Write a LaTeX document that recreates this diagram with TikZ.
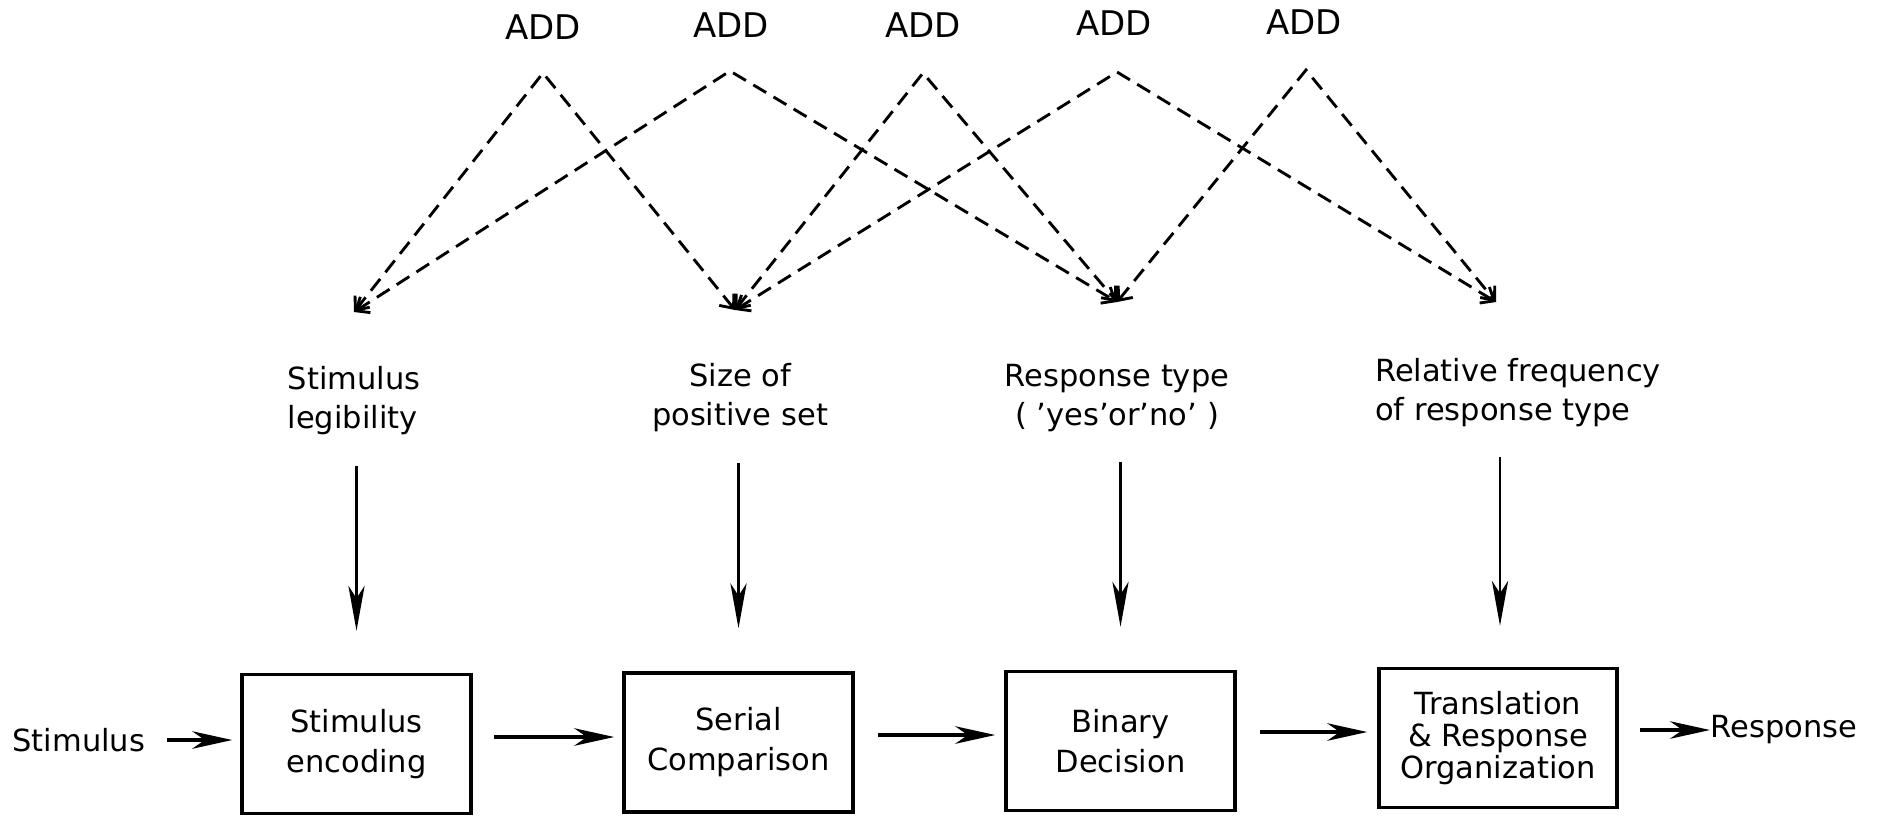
\documentclass[tikz,border=0pt]{standalone}
\usepackage{fontspec}
\setmainfont{DejaVu Sans}
\usetikzlibrary{arrows.meta,calc}
\begin{document}
\begin{tikzpicture}[x=0.4pt,y=-0.4pt,
  lbl/.style={font=\fontsize{12.2}{15.6}\selectfont, align=center, inner sep=0pt},
  addlbl/.style={font=\fontsize{13.6}{15}\selectfont, inner sep=0pt},
  procbox/.style={draw, line width=1.4pt, minimum width=91.6pt, minimum height=55.6pt,
    align=center, font=\fontsize{12.2}{16}\selectfont, inner sep=0pt},
  addline/.style={line width=1.15pt, dash pattern=on 6pt off 3.4pt,
    {Straight Barb[length=4.5pt,width=7.5pt,line width=1.15pt]}-{Straight Barb[length=4.5pt,width=7.5pt,line width=1.15pt]}},
  varrow/.style={line width=0.9pt, -{Stealth[length=18pt,width=6.5pt,inset=5pt]}},
  harrow/.style={line width=1.4pt, -{Stealth[length=16pt,width=7pt,inset=5pt]}}
]
\useasboundingbox (0,0) rectangle (1877,816);

% ADD labels
\node[addlbl] (add1) at (543,27) {ADD};
\node[addlbl] (add2) at (731,25) {ADD};
\node[addlbl] (add3) at (923,25) {ADD};
\node[addlbl] (add4) at (1114,23) {ADD};
\node[addlbl] (add5) at (1304,22) {ADD};

% apexes and vertices
\coordinate (a1) at (543,73);
\coordinate (a2) at (730,71);
\coordinate (a3) at (923,73);
\coordinate (a4) at (1117,72);
\coordinate (a5) at (1306,70);
\coordinate (vSL) at (354,312);
\coordinate (vSZ) at (735,310);
\coordinate (vRT) at (1117,302);
\coordinate (vRF) at (1496,302);

\draw[addline] (vSL) -- (a1) -- (vSZ);
\draw[addline] (vSL) -- (a2) -- (vRT);
\draw[addline] (vSZ) -- (a3) -- (vRT);
\draw[addline] (vSZ) -- (a4) -- (vRF);
\draw[addline] (vRT) -- (a5) -- (vRF);

% factor labels
\node[lbl, align=left] (sl) at (354,401) {Stimulus\\legibility};
\node[lbl] (sz) at (740,398) {Size of\\positive set};
\node[lbl] (rt) at (1117,398) {Response type\\( ’yes’or’no’ )};
\node[lbl, align=left] (rf) at (1518,393) {Relative frequency\\of response type};

% boxes
\node[procbox] (b1) at (356.5,744) {Stimulus\\encoding};
\node[procbox] (b2) at (738.5,742.5) {Serial\\Comparison};
\node[procbox] (b3) at (1120.5,741) {Binary\\Decision};
\node[procbox, minimum width=95.2pt, font=\fontsize{12.2}{12.8}\selectfont] (b4) at (1498,738) {Translation\\\&~Response\\Organization};

% vertical arrows
\draw[varrow] ([yshift=82.8pt]b1.north) -- ([yshift=16.8pt]b1.north);
\draw[varrow] ([yshift=83.2pt]b2.north) -- ([yshift=17.2pt]b2.north);
\draw[varrow] ([yshift=83.2pt]b3.north) -- ([yshift=17.2pt]b3.north);
\draw[varrow] ([xshift=0.8pt,yshift=84pt]b4.north) -- ([xshift=0.8pt,yshift=16.4pt]b4.north);

% input / output
\node[lbl, anchor=west] (stim) at (12,740) {Stimulus};
\node[lbl, anchor=west] (resp) at (1710,730) {Response};

\draw[harrow] ($(stim.east)+(21,0)$) -- ($(b1.west)+(-8,-4)$);
\draw[harrow] ($(b1.east)+(21,-7)$) -- ($(b2.west)+(-8,-5.5)$);
\draw[harrow] ($(b2.east)+(23,-7.5)$) -- ($(b3.west)+(-9,-6)$);
\draw[harrow] ($(b3.east)+(23,-9)$) -- ($(b4.west)+(-10,-6)$);
\draw[harrow] ($(b4.east)+(21,-8)$) -- (resp.west);
\end{tikzpicture}
\end{document}
